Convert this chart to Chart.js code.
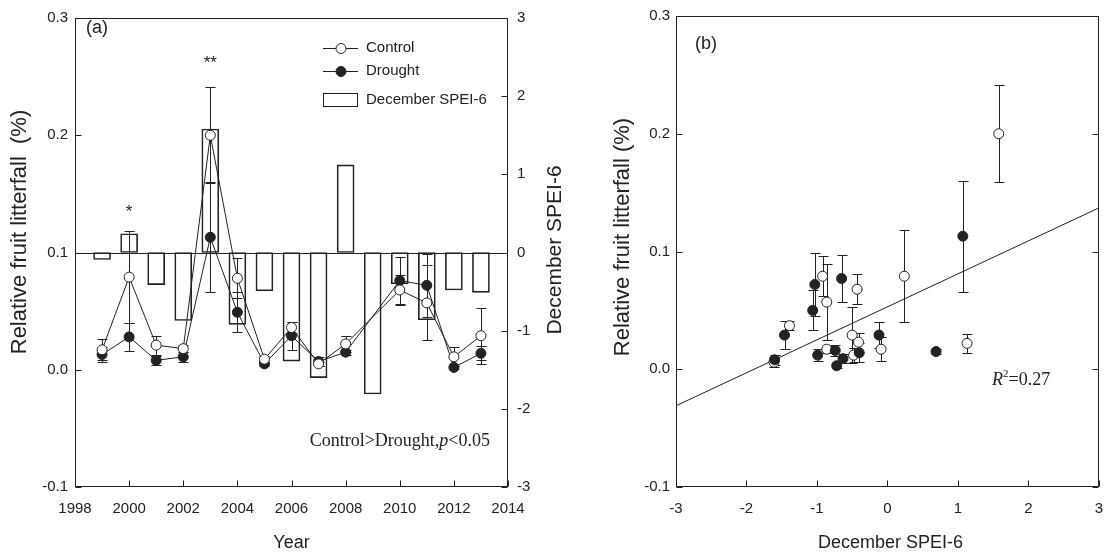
<!DOCTYPE html>
<html>
<head>
<meta charset="utf-8">
<script src="https://cdn.jsdelivr.net/npm/chart.js@4.4.0/dist/chart.umd.min.js"></script>
<style>
  html, body { margin: 0; padding: 0; background: #fff; }
  canvas { position: absolute; top: 0; }
  #chartA { left: 0; }
  #chartB { left: 558px; }
</style>
</head>
<body>
<canvas id="chartA" width="575" height="558"></canvas>
<canvas id="chartB" width="558" height="558"></canvas>
<script>
// ---- panel (a): yearly values ----
const speiYears = [1999, 2000, 2001, 2002, 2003, 2004, 2005, 2006, 2007, 2008, 2009, 2010, 2011, 2012, 2013];
const decemberSpei = [-0.09, 0.24, -0.41, -0.87, 1.58, -0.92, -0.49, -1.39, -1.60, 1.12, -1.81, -0.40, -0.86, -0.48, -0.51];

const litterYears = [1999, 2000, 2001, 2002, 2003, 2004, 2005, 2006, 2007, 2008, 2010, 2011, 2012, 2013];
const controlMean = [0.017, 0.079, 0.021, 0.018, 0.200, 0.078, 0.009, 0.036, 0.005, 0.022, 0.068, 0.057, 0.011, 0.029];
const controlErr  = [0.009, 0.039, 0.008, 0.003, 0.041, 0.017, 0.003, 0.005, 0.002, 0.007, 0.013, 0.032, 0.008, 0.024];
const droughtMean = [0.013, 0.028, 0.008, 0.011, 0.113, 0.049, 0.005, 0.029, 0.007, 0.015, 0.076, 0.072, 0.002, 0.014];
const droughtErr  = [0.006, 0.012, 0.004, 0.004, 0.047, 0.017, 0.002, 0.012, 0.004, 0.002, 0.020, 0.027, 0.001, 0.006];

const yearTicks = [1998, 2000, 2002, 2004, 2006, 2008, 2010, 2012, 2014];
const litterTicks = [-0.1, 0.0, 0.1, 0.2, 0.3];
const speiAxisTicks = [-3, -2, -1, 0, 1, 2, 3];

// ---- panel (b): litterfall against SPEI ----
const ctlSpei   = [-1.61, -1.39, -0.92, -0.86, -0.86, -0.50, -0.43, -0.41, -0.48, -0.09, 0.24, 1.13, 1.58];
const ctlLitter = [0.006, 0.037, 0.079, 0.057, 0.017, 0.029, 0.068, 0.023, 0.012, 0.017, 0.079, 0.022, 0.200];
const ctlLitErr = [0.004, 0.004, 0.017, 0.032, 0.003, 0.024, 0.013, 0.008, 0.006, 0.010, 0.039, 0.008, 0.041];
const drtSpei   = [-1.60, -1.46, -1.06, -1.03, -0.99, -0.74, -0.72, -0.65, -0.63, -0.40, -0.12, 0.69, 1.07];
const drtLitter = [0.008, 0.029, 0.050, 0.072, 0.012, 0.016, 0.003, 0.077, 0.009, 0.014, 0.029, 0.015, 0.113];
const drtLitErr = [0.004, 0.012, 0.017, 0.027, 0.005, 0.005, 0.002, 0.020, 0.004, 0.008, 0.011, 0.002, 0.047];
const fitSlope = 0.028;
const fitIntercept = 0.053;
const speiRange = [-3, 3];

const INK = '#222';
const SANS = '"Liberation Sans", Arial, sans-serif';
const SERIF = '"Liberation Serif", "Times New Roman", serif';
const R = 5;

function pts(xs, ys) {
  return xs.map((x, i) => ({ x: x, y: ys[i] }));
}

// vertical error bars with caps, drawn under the markers
const errorBars = {
  id: 'errorBars',
  beforeDatasetsDraw(chart) {
    const ctx = chart.ctx;
    ctx.save();
    ctx.strokeStyle = INK;
    ctx.lineWidth = 1;
    chart.data.datasets.forEach((ds, i) => {
      if (!ds.errors) return;
      const meta = chart.getDatasetMeta(i);
      const xs = chart.scales[meta.xAxisID], ys = chart.scales[meta.yAxisID];
      ds.data.forEach((p, j) => {
        const e = ds.errors[j];
        const px = Math.round(xs.getPixelForValue(p.x)) + 0.5;
        const t = Math.round(ys.getPixelForValue(p.y + e)) + 0.5;
        const b = Math.round(ys.getPixelForValue(p.y - e)) + 0.5;
        ctx.beginPath();
        ctx.moveTo(px, t); ctx.lineTo(px, b);
        ctx.moveTo(px - 5, t); ctx.lineTo(px + 5, t);
        ctx.moveTo(px - 5, b); ctx.lineTo(px + 5, b);
        ctx.stroke();
      });
    });
    ctx.restore();
  }
};

// box round the plot and inward tick marks
const frame = {
  id: 'frame',
  afterDraw(chart, args, opts) {
    const ctx = chart.ctx, a = chart.chartArea;
    const L = 6;
    ctx.save();
    ctx.strokeStyle = INK;
    ctx.lineWidth = 1;
    const l = Math.round(a.left) + 0.5, r = Math.round(a.right) - 0.5;
    const t = Math.round(a.top) + 0.5, b = Math.round(a.bottom) - 0.5;
    ctx.strokeRect(l, t, r - l, b - t);
    ctx.beginPath();
    const xs = chart.scales[opts.bottom];
    xs.ticks.forEach(tk => {
      const x = Math.round(xs.getPixelForValue(tk.value)) + 0.5;
      ctx.moveTo(x, b); ctx.lineTo(x, b - L);
    });
    const ls = chart.scales[opts.left];
    ls.ticks.forEach(tk => {
      const y = Math.round(ls.getPixelForValue(tk.value)) + 0.5;
      ctx.moveTo(l, y); ctx.lineTo(l + L, y);
    });
    const rs = chart.scales[opts.right];
    rs.ticks.forEach(tk => {
      const y = Math.round(rs.getPixelForValue(tk.value)) + 0.5;
      ctx.moveTo(r, y); ctx.lineTo(r - L, y);
    });
    ctx.stroke();
    ctx.restore();
  }
};

function drawRuns(ctx, runs, x, y, align) {
  let w = 0;
  runs.forEach(r => { ctx.font = r.font; w += ctx.measureText(r.t).width; });
  let cx = align === 'right' ? x - w : x;
  ctx.textAlign = 'left';
  ctx.textBaseline = 'alphabetic';
  runs.forEach(r => {
    ctx.font = r.font;
    ctx.fillText(r.t, cx, y + (r.dy || 0));
    cx += ctx.measureText(r.t).width;
  });
}

function rotText(ctx, text, x, y, font) {
  ctx.save();
  ctx.translate(x, y);
  ctx.rotate(-Math.PI / 2);
  ctx.font = font;
  ctx.textAlign = 'center';
  ctx.textBaseline = 'middle';
  ctx.fillText(text, 0, 0);
  ctx.restore();
}

const notesA = {
  id: 'notesA',
  afterDraw(chart) {
    const ctx = chart.ctx, xs = chart.scales.x, y2 = chart.scales.y2, a = chart.chartArea;
    ctx.save();
    // SPEI = 0 reference line
    const y0 = Math.round(y2.getPixelForValue(0)) + 0.5;
    ctx.strokeStyle = INK; ctx.lineWidth = 1;
    ctx.beginPath(); ctx.moveTo(a.left, y0); ctx.lineTo(a.right, y0); ctx.stroke();

    ctx.fillStyle = INK;
    ctx.font = '18px ' + SANS; ctx.textAlign = 'left'; ctx.textBaseline = 'middle';
    ctx.fillText('(a)', 86, 28);
    ctx.font = '17px ' + SANS; ctx.textAlign = 'center';
    ctx.fillText('*', xs.getPixelForValue(2000), 212);
    ctx.fillText('**', xs.getPixelForValue(2003), 63);

    // legend
    const lx1 = 323, lx2 = 358, cx = 341, tx = 366;
    [['Control', 48, '#fff'], ['Drought', 71, INK]].forEach(([name, y, fill]) => {
      ctx.beginPath(); ctx.moveTo(lx1, y + 0.5); ctx.lineTo(lx2, y + 0.5); ctx.stroke();
      ctx.beginPath(); ctx.arc(cx, y + 0.5, R, 0, Math.PI * 2);
      ctx.fillStyle = fill; ctx.fill(); ctx.stroke();
      ctx.fillStyle = INK; ctx.font = '15px ' + SANS; ctx.textAlign = 'left';
      ctx.fillText(name, tx, y);
    });
    ctx.strokeRect(323.5, 93.5, 34, 13);
    ctx.fillText('December SPEI-6', tx, 100);

    drawRuns(ctx, [
      { t: 'Control>Drought,', font: '18px ' + SERIF },
      { t: 'p', font: 'italic 18px ' + SERIF },
      { t: '<0.05', font: '18px ' + SERIF }
    ], 490, 446, 'right');

    // axis titles
    rotText(ctx, 'Relative fruit litterfall  (%)', 20, 232, '22px ' + SANS);
    rotText(ctx, 'December SPEI-6', 555, 250, '21px ' + SANS);
    ctx.font = '18px ' + SANS; ctx.textAlign = 'center'; ctx.textBaseline = 'middle';
    ctx.fillText('Year', (a.left + a.right) / 2, 543);
    ctx.restore();
  }
};

const notesB = {
  id: 'notesB',
  afterDraw(chart) {
    const ctx = chart.ctx, a = chart.chartArea;
    ctx.save();
    ctx.fillStyle = INK;
    ctx.font = '18px ' + SANS; ctx.textAlign = 'left'; ctx.textBaseline = 'middle';
    ctx.fillText('(b)', 137, 44);
    drawRuns(ctx, [
      { t: 'R', font: 'italic 18px ' + SERIF },
      { t: '2', font: '11px ' + SERIF, dy: -8 },
      { t: '=0.27', font: '18px ' + SERIF }
    ], 434, 385, 'left');
    rotText(ctx, 'Relative fruit litterfall (%)', 65, 237, '22px ' + SANS);
    ctx.font = '18px ' + SANS; ctx.textAlign = 'center'; ctx.textBaseline = 'middle';
    ctx.fillText('December SPEI-6', (a.left + a.right) / 2 + 3, 543);
    ctx.restore();
  }
};

function tickFont() {
  return { family: SANS, size: 15 };
}

function fixed(list) {
  return scale => { scale.ticks = list.map(v => ({ value: v })); };
}

const markerA = {
  borderColor: INK, borderWidth: 1, pointRadius: R, pointBorderColor: INK,
  pointBorderWidth: 1, pointHoverRadius: R, tension: 0, fill: false
};

new Chart(document.getElementById('chartA'), {
  type: 'bar',
  data: {
    datasets: [
      Object.assign({ type: 'line', label: 'Control', data: pts(litterYears, controlMean), errors: controlErr,
        pointBackgroundColor: '#fff', yAxisID: 'y', order: 1 }, markerA),
      Object.assign({ type: 'line', label: 'Drought', data: pts(litterYears, droughtMean), errors: droughtErr,
        pointBackgroundColor: INK, yAxisID: 'y', order: 2 }, markerA),
      { type: 'bar', label: 'December SPEI-6', data: pts(speiYears, decemberSpei), yAxisID: 'y2',
        backgroundColor: 'rgba(0,0,0,0)', borderColor: INK, borderWidth: 1, borderSkipped: false,
        barThickness: 17, order: 3 }
    ]
  },
  options: {
    responsive: false,
    devicePixelRatio: 1,
    animation: false,
    events: [],
    layout: { padding: { top: 16, left: 0, right: 0, bottom: 0 } },
    plugins: { legend: { display: false }, tooltip: { enabled: false },
      frame: { bottom: 'x', left: 'y', right: 'y2' } },
    scales: {
      x: {
        type: 'linear', min: 1998, max: 2014, offset: false,
        grid: { display: false, drawTicks: false }, border: { display: false },
        afterBuildTicks: fixed(yearTicks),
        ticks: { callback: v => String(v), font: tickFont(), color: INK, padding: 13, maxRotation: 0 },
        afterFit: s => { s.height = 71; }
      },
      y: {
        position: 'left', min: -0.1, max: 0.3,
        grid: { display: false, drawTicks: false }, border: { display: false },
        afterBuildTicks: fixed(litterTicks),
        ticks: { callback: v => v.toFixed(1), font: tickFont(), color: INK, padding: 7 },
        afterFit: s => { s.width = 75; }
      },
      y2: {
        position: 'right', min: -3, max: 3,
        grid: { display: false, drawTicks: false }, border: { display: false },
        afterBuildTicks: fixed(speiAxisTicks),
        ticks: { callback: v => String(v), font: tickFont(), color: INK, padding: 9 },
        afterFit: s => { s.width = 67; }
      }
    }
  },
  plugins: [errorBars, frame, notesA]
});

const markerB = {
  pointRadius: R, pointHoverRadius: R, pointBorderColor: INK, pointBorderWidth: 1, showLine: false
};

new Chart(document.getElementById('chartB'), {
  type: 'scatter',
  data: {
    datasets: [
      Object.assign({ label: 'Drought', data: pts(drtSpei, drtLitter), errors: drtLitErr,
        pointBackgroundColor: INK }, markerB),
      Object.assign({ label: 'Control', data: pts(ctlSpei, ctlLitter), errors: ctlLitErr,
        pointBackgroundColor: '#fff' }, markerB),
      { label: 'Fit', type: 'line', showLine: true, pointRadius: 0, borderColor: INK, borderWidth: 1,
        data: speiRange.map(x => ({ x: x, y: fitIntercept + fitSlope * x })) }
    ]
  },
  options: {
    responsive: false,
    devicePixelRatio: 1,
    animation: false,
    events: [],
    layout: { padding: { top: 16, left: 0, right: 8, bottom: 0 } },
    plugins: { legend: { display: false }, tooltip: { enabled: false },
      frame: { bottom: 'x', left: 'y', right: 'y' } },
    scales: {
      x: {
        type: 'linear', min: -3, max: 3,
        grid: { display: false, drawTicks: false }, border: { display: false },
        afterBuildTicks: fixed(speiAxisTicks),
        ticks: { callback: v => String(v), font: tickFont(), color: INK, padding: 13, maxRotation: 0 },
        afterFit: s => { s.height = 71; }
      },
      y: {
        min: -0.1, max: 0.3,
        grid: { display: false, drawTicks: false }, border: { display: false },
        afterBuildTicks: fixed(litterTicks),
        ticks: { callback: v => v.toFixed(1), font: tickFont(), color: INK, padding: 6 },
        afterFit: s => { s.width = 118; }
      }
    }
  },
  plugins: [errorBars, frame, notesB]
});
</script>
</body>
</html>
